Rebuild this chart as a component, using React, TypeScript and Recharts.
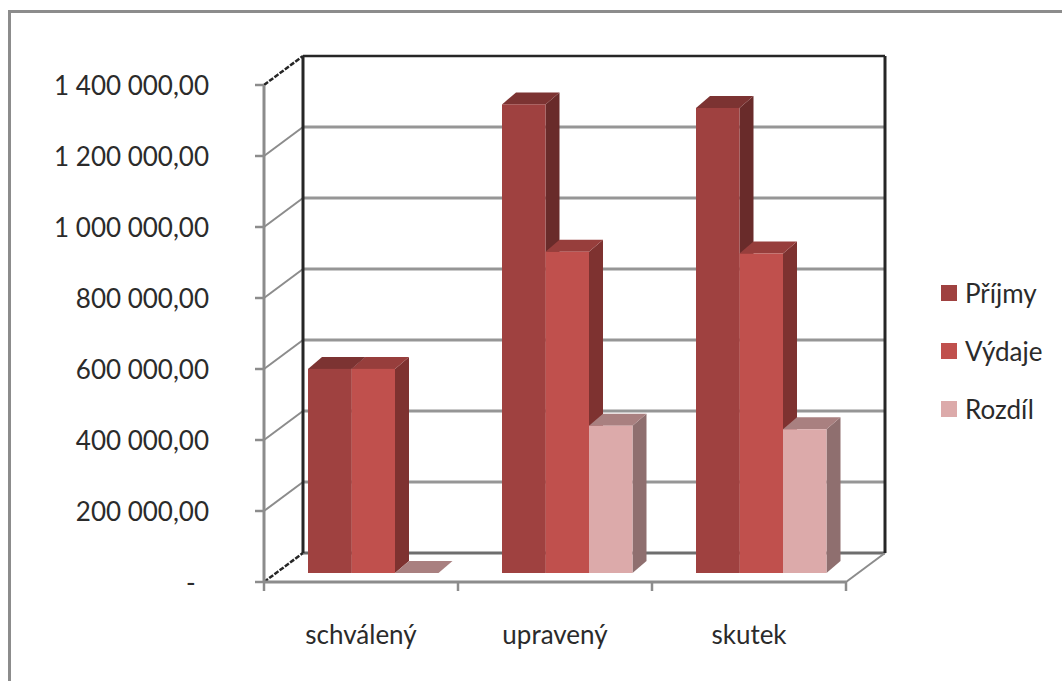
import React from 'react';
import { BarChart, Bar, XAxis, YAxis, CartesianGrid, Legend } from 'recharts';

const categories = ['schválený', 'upravený', 'skutek'];
const prijmy = [575000, 1320000, 1310000];
const vydaje = [575000, 905000, 900000];
const rozdil = [0, 415000, 405000];
const yTicks = [0, 200000, 400000, 600000, 800000, 1000000, 1200000, 1400000];
const yTickLabels = ['-\u00a0\u00a0', '200 000,00', '400 000,00', '600 000,00', '800 000,00', '1 000 000,00', '1 200 000,00', '1 400 000,00'];

const data = categories.map((name, i) => ({ name, prijmy: prijmy[i], vydaje: vydaje[i], rozdil: rozdil[i] }));

const FONT = 'Lato, "Open Sans", sans-serif';
const FONT_SIZE = 26;
const TEXT = '#2b2b2b';
const GRAY = '#8c8c8c';
const DARK = '#262626';
// shift of the back wall against the front axes
const WALL_X = 39;
const WALL_Y = 29;
// bars stand a bit inside the floor and have their own depth
const BAR_SHIFT_X = 12;
const BAR_SHIFT_Y = 9;
const DEPTH_X = 14;
const DEPTH_Y = 12;

const shades: Record<string, { top: string; side: string }> = {
  prijmy: { top: '#7c3332', side: '#692b2a' },
  vydaje: { top: '#973e3c', side: '#7e3230' },
  rozdil: { top: '#a98080', side: '#8f6f6f' },
};

const Bar3D = (props: any) => {
  const { x, y, width, height, fill, dataKey } = props;
  const left = x + BAR_SHIFT_X;
  const right = left + width;
  const top = y - BAR_SHIFT_Y;
  const bottom = top + height;
  const s = shades[dataKey];
  return (
    <g>
      <polygon
        points={`${right},${top} ${right + DEPTH_X},${top - DEPTH_Y} ${right + DEPTH_X},${bottom - DEPTH_Y} ${right},${bottom}`}
        fill={s.side}
      />
      <polygon
        points={`${left},${top} ${left + DEPTH_X},${top - DEPTH_Y} ${right + DEPTH_X},${top - DEPTH_Y} ${right},${top}`}
        fill={s.top}
      />
      <rect x={left} y={top} width={width} height={height} fill={fill} />
    </g>
  );
};

const WallLine = (props: any) => {
  const { x1, x2, y1, index, y, height } = props;
  const isEdge = y1 === y || y1 === y + height;
  const isTop = y1 === y;
  const isFloor = y1 === y + height;
  return (
    <g key={index}>
      <line
        x1={x1}
        y1={y1}
        x2={x1 + WALL_X}
        y2={y1 - WALL_Y}
        stroke={isEdge ? DARK : GRAY}
        strokeWidth={isEdge ? 2.5 : 2}
        strokeDasharray={isEdge ? '5 1.5' : undefined}
      />
      <line
        x1={x1 + WALL_X}
        y1={y1 - WALL_Y}
        x2={x2 + WALL_X}
        y2={y1 - WALL_Y}
        stroke={isTop ? DARK : isFloor ? '#6e6e6e' : '#969696'}
        strokeWidth={isTop ? 2.5 : 3}
      />
      {isTop && (
        <>
          <line x1={x1 + WALL_X} y1={y1 - WALL_Y} x2={x1 + WALL_X} y2={y1 + height - WALL_Y} stroke={DARK} strokeWidth={3} />
          <line x1={x2 + WALL_X} y1={y1 - WALL_Y} x2={x2 + WALL_X} y2={y1 + height - WALL_Y} stroke={DARK} strokeWidth={3} />
        </>
      )}
      {isFloor && <line x1={x2} y1={y1} x2={x2 + WALL_X} y2={y1 - WALL_Y} stroke={GRAY} strokeWidth={2} />}
    </g>
  );
};

const CategoryTick = (props: any) => {
  const { x, y, payload, width, index } = props;
  const band = width / categories.length;
  return (
    <g>
      <line x1={x - band / 2} y1={y - 8} x2={x - band / 2} y2={y + 1} stroke={GRAY} strokeWidth={2.5} />
      {index === categories.length - 1 && (
        <line x1={x + band / 2} y1={y - 8} x2={x + band / 2} y2={y + 1} stroke={GRAY} strokeWidth={2.5} />
      )}
      <text x={x} y={y + 54} textAnchor="middle" fontFamily={FONT} fontSize={FONT_SIZE} fill={TEXT}>
        {payload.value}
      </text>
    </g>
  );
};

const LegendBox = ({ payload }: any) => (
  <div style={{ fontFamily: FONT, fontSize: FONT_SIZE, color: TEXT }}>
    {payload.map((entry: any) => (
      <div key={entry.value} style={{ display: 'flex', alignItems: 'center', height: 58 }}>
        <span style={{ width: 16, height: 16, marginRight: 8, background: entry.color, display: 'inline-block' }} />
        {entry.value}
      </div>
    ))}
  </div>
);

export default function App() {
  return (
    <div style={{ position: 'absolute', left: 0, top: 0, width: 1062, height: 681, overflow: 'hidden', background: '#fff' }}>
      <div
        style={{
          position: 'absolute',
          left: 8,
          top: 10,
          width: 1060,
          height: 700,
          border: `3px solid ${GRAY}`,
          boxSizing: 'border-box',
        }}
      />
      <div style={{ position: 'absolute', left: 0, top: 0 }}>
        <BarChart
          width={1062}
          height={681}
          data={data}
          margin={{ top: 85, right: 216, bottom: 0, left: 0 }}
          barSize={43.5}
          barGap={0}
        >
          <CartesianGrid horizontal={(p: any) => <WallLine {...p} />} vertical={false} />
          <XAxis
            dataKey="name"
            height={99}
            interval={0}
            axisLine={{ stroke: GRAY, strokeWidth: 3 }}
            tickLine={false}
            tick={<CategoryTick />}
          />
          <YAxis
            width={264}
            domain={[0, 1400000]}
            ticks={yTicks}
            interval={0}
            tickFormatter={(v: number) => yTickLabels[yTicks.indexOf(v)]}
            axisLine={{ stroke: GRAY, strokeWidth: 3 }}
            tickLine={{ stroke: GRAY, strokeWidth: 2.5 }}
            tickSize={9}
            tickMargin={46}
            tick={{ fontFamily: FONT, fontSize: FONT_SIZE, fill: TEXT, dy: 1 }}
          />
          <Legend
            layout="vertical"
            align="center"
            verticalAlign="middle"
            itemSorter={null}
            wrapperStyle={{ left: 941, top: 264, width: 120, bottom: 'auto', right: 'auto' }}
            content={<LegendBox />}
          />
          <Bar dataKey="prijmy" name="Příjmy" fill="#9f4140" shape={<Bar3D />} isAnimationActive={false} />
          <Bar dataKey="vydaje" name="Výdaje" fill="#c0504d" shape={<Bar3D />} isAnimationActive={false} />
          <Bar dataKey="rozdil" name="Rozdíl" fill="#dcaaaa" shape={<Bar3D />} isAnimationActive={false} />
        </BarChart>
      </div>
    </div>
  );
}
